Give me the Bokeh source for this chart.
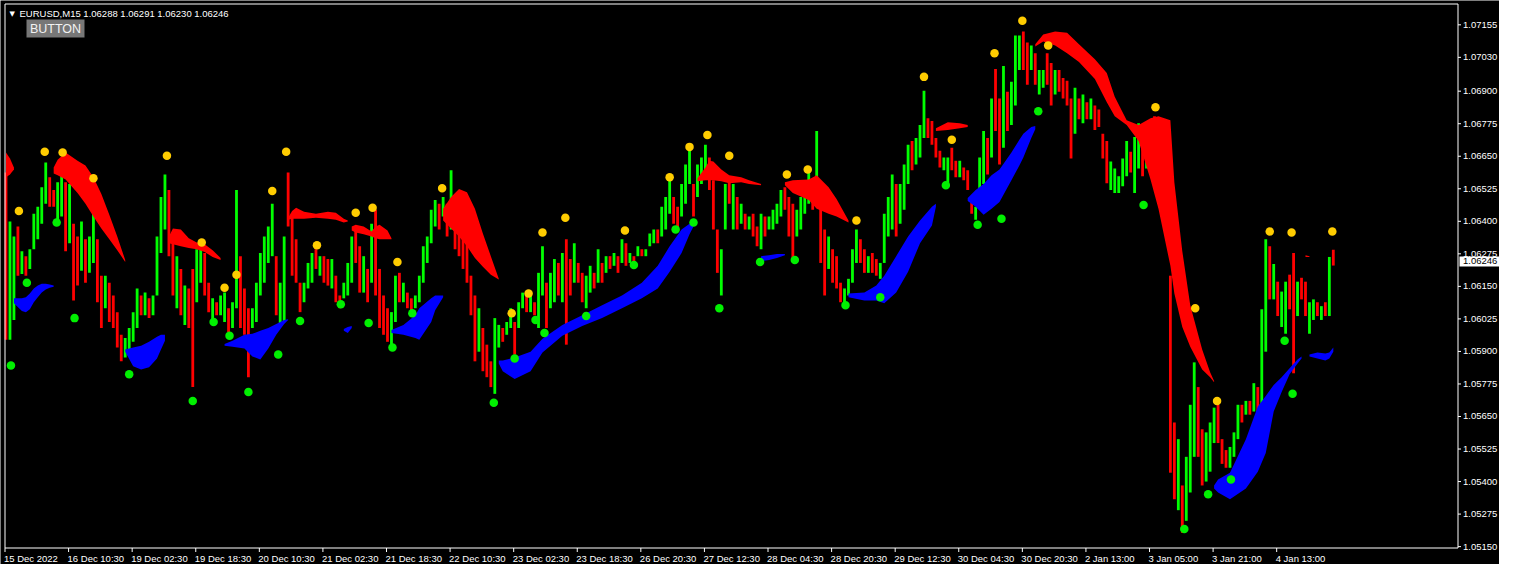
import numpy as np
from bokeh.plotting import figure
from bokeh.models import Range1d, ColumnDataSource
from bokeh.core.properties import value
from bokeh.embed import file_html
from bokeh.resources import INLINE

# ---------------- data ----------------
symbol = "EURUSD,M15"
last_ohlc = [1.06288, 1.06291, 1.06230, 1.06246]
price_base = 1.05          # all stored values below are points (0.00001) above this level

# hourly-aggregated bars (high / low / close, in points)
bar_high = [
    1588, 1399, 1342, 1380, 1285, 1266, 1293, 1429, 1456, 1531,
    1626, 1569, 1520, 1550, 1580, 1550, 1543, 1391, 1342, 1399,
    1331, 1342, 1429, 1331, 1191, 1191, 1164, 1115, 1051, 964,
    952, 990, 1051, 1142, 1115, 1126, 1104, 1115, 1342, 1493,
    1580, 1520, 1342, 1266, 1217, 1153, 1142, 1217, 1293, 1304,
    1278, 1164, 1104, 1089, 1115, 1126, 1066, 1089, 1520, 1266,
    1142, 1066, 1066, 1164, 1278, 1342, 1380, 1467, 1266, 1164,
    1342, 1588, 1429, 1331, 1164, 1164, 1240, 1278, 1293, 1266,
    1266, 1255, 1255, 1191, 1115, 1164, 1240, 1342, 1369, 1304,
    1266, 1217, 1391, 1444, 1217, 1115, 1066, 1051, 1191, 1202,
    1164, 1126, 1104, 1115, 1191, 1304, 1342, 1444, 1482, 1467,
    1493, 1467, 1596, 1444, 1391, 1369, 1316, 1191, 1115, 1066,
    990, 926, 862, 1028, 1002, 990, 1013, 1066, 1013, 1089,
    1126, 1115, 1115, 1089, 1202, 1304, 1164, 1202, 1255, 1240,
    1278, 1331, 1255, 1316, 1240, 1202, 1191, 1229, 1202, 1293,
    1240, 1266, 1266, 1278, 1266, 1331, 1316, 1278, 1266, 1304,
    1293, 1293, 1353, 1369, 1369, 1456, 1493, 1569, 1493, 1456,
    1543, 1618, 1671, 1543, 1618, 1645, 1694, 1645, 1558, 1369,
    1293, 1543, 1558, 1543, 1493, 1467, 1429, 1418, 1429, 1380,
    1429, 1418, 1418, 1444, 1467, 1520, 1531, 1493, 1467, 1444,
    1493, 1543, 1596, 1543, 1747, 1493, 1369, 1342, 1293, 1266,
    1164, 1142, 1179, 1293, 1369, 1331, 1293, 1266, 1278, 1255,
    1240, 1429, 1493, 1580, 1543, 1543, 1618, 1694, 1709, 1720,
    1770, 1902, 1796, 1785, 1720, 1671, 1645, 1645, 1683, 1633,
    1633, 1607, 1596, 1493, 1456, 1645, 1747, 1720, 1872, 1985,
    1872, 1997, 1898, 1936, 2114, 2114, 2129, 2087, 2076, 2046,
    1981, 1981, 2046, 2008, 1981, 1981, 1951, 1940, 1872, 1913,
    1872, 1887, 1857, 1872, 1845, 1830, 1736, 1709, 1630, 1603,
    1573, 1641, 1709, 1667, 1724, 1777, 1762, 1777, 1792, 1804,
    1792, 1777, 1739, 1191, 627, 563, 385, 495, 695, 858,
    763, 601, 589, 627, 684, 695, 563, 521, 533, 589,
    695, 695, 710, 710, 778, 763, 1062, 1331, 1304, 1236,
    1168, 1130, 1168, 1195, 1278, 1168, 1183, 1168, 1089, 1100,
    1089, 1074, 1089, 1263, 1291,
]
bar_low = [
    945, 945, 1021, 1191, 1198, 1191, 1217, 1293, 1331, 1391,
    1467, 1456, 1456, 1399, 1418, 1285, 1316, 1096, 1153, 1210,
    1164, 1202, 1240, 1089, 990, 1066, 1013, 990, 915, 862,
    877, 888, 937, 990, 1039, 1039, 1028, 1039, 1115, 1278,
    1369, 1266, 1115, 1066, 1039, 1002, 990, 763, 1089, 1164,
    1115, 1051, 1013, 1039, 1039, 1013, 975, 990, 1066, 990,
    964, 801, 990, 1013, 1115, 1164, 1240, 1266, 1039, 1002,
    1013, 1380, 1191, 1164, 1051, 1089, 1142, 1164, 1217, 1191,
    1164, 1153, 1142, 1089, 1066, 1104, 1115, 1164, 1240, 1126,
    1126, 1089, 1164, 1115, 990, 964, 937, 915, 1013, 1089,
    1089, 1066, 1051, 1066, 1089, 1164, 1240, 1316, 1380, 1369,
    1418, 1342, 1369, 1293, 1266, 1217, 1164, 1039, 862, 899,
    824, 801, 763, 737, 915, 937, 964, 990, 888, 990,
    1066, 1051, 1051, 1039, 990, 1115, 990, 1066, 1089, 1115,
    1089, 926, 1115, 1164, 1164, 1089, 1066, 1126, 1142, 1164,
    1164, 1202, 1217, 1229, 1202, 1240, 1229, 1240, 1229, 1266,
    1266, 1266, 1304, 1316, 1316, 1342, 1369, 1429, 1391, 1369,
    1418, 1467, 1543, 1418, 1493, 1543, 1596, 1520, 1369, 1202,
    1115, 1369, 1467, 1369, 1369, 1391, 1369, 1369, 1342, 1304,
    1293, 1342, 1369, 1369, 1391, 1418, 1444, 1342, 1255, 1342,
    1369, 1429, 1467, 1444, 1493, 1240, 1115, 1217, 1164, 1142,
    1089, 1077, 1115, 1164, 1240, 1240, 1202, 1202, 1202, 1191,
    1179, 1240, 1342, 1369, 1342, 1391, 1444, 1543, 1596, 1618,
    1645, 1720, 1720, 1694, 1645, 1607, 1596, 1543, 1596, 1569,
    1569, 1558, 1520, 1429, 1406, 1467, 1543, 1580, 1645, 1747,
    1618, 1683, 1747, 1770, 1845, 1981, 1981, 1925, 1981, 1925,
    1887, 1913, 1925, 1845, 1887, 1898, 1872, 1845, 1641, 1736,
    1792, 1777, 1792, 1792, 1751, 1762, 1641, 1546, 1520, 1509,
    1509, 1535, 1573, 1588, 1509, 1603, 1573, 1603, 1709, 1736,
    1709, 1683, 1569, 434, 332, 290, 203, 249, 358, 495,
    495, 385, 400, 438, 548, 548, 468, 453, 453, 495,
    563, 627, 657, 657, 669, 669, 695, 899, 1100, 1100,
    1036, 994, 968, 1062, 816, 1036, 1100, 1036, 968, 1021,
    1036, 1021, 1036, 1036, 1230,
]
bar_close = [
    1000, 1350, 1300, 1215, 1270, 1205, 1280, 1410, 1440, 1510,
    1600, 1475, 1465, 1530, 1560, 1310, 1500, 1130, 1180, 1370,
    1190, 1320, 1400, 1120, 1020, 1170, 1040, 1010, 940, 880,
    940, 975, 1035, 1120, 1050, 1110, 1040, 1100, 1310, 1460,
    1540, 1300, 1150, 1240, 1070, 1130, 1010, 900, 1260, 1280,
    1140, 1065, 1090, 1045, 1100, 1110, 985, 1075, 1300, 1030,
    990, 880, 1055, 1140, 1250, 1310, 1360, 1440, 1070, 1140,
    1300, 1400, 1220, 1185, 1065, 1150, 1225, 1260, 1230, 1255,
    1180, 1170, 1240, 1100, 1072, 1155, 1225, 1320, 1255, 1145,
    1245, 1100, 1370, 1150, 1010, 980, 950, 1035, 1170, 1100,
    1150, 1075, 1058, 1105, 1175, 1285, 1325, 1425, 1465, 1385,
    1480, 1360, 1560, 1310, 1280, 1235, 1180, 1055, 890, 1040,
    845, 815, 775, 1000, 990, 945, 1005, 1055, 900, 1075,
    1118, 1060, 1105, 1045, 1180, 1280, 1010, 1185, 1235, 1130,
    1255, 1000, 1130, 1295, 1175, 1100, 1175, 1215, 1150, 1275,
    1175, 1255, 1222, 1270, 1210, 1320, 1240, 1272, 1235, 1298,
    1270, 1288, 1345, 1362, 1322, 1440, 1480, 1550, 1400, 1380,
    1530, 1600, 1655, 1430, 1600, 1630, 1680, 1535, 1390, 1215,
    1270, 1520, 1475, 1520, 1380, 1455, 1375, 1410, 1350, 1312,
    1415, 1350, 1410, 1435, 1455, 1505, 1455, 1360, 1280, 1430,
    1480, 1530, 1580, 1455, 1700, 1270, 1140, 1325, 1180, 1155,
    1095, 1135, 1170, 1280, 1350, 1250, 1212, 1258, 1210, 1198,
    1232, 1410, 1480, 1560, 1360, 1530, 1600, 1680, 1605, 1710,
    1755, 1870, 1730, 1700, 1650, 1612, 1638, 1630, 1605, 1575,
    1625, 1562, 1528, 1435, 1450, 1630, 1725, 1590, 1850, 1770,
    1640, 1970, 1760, 1920, 2090, 2100, 1995, 1940, 2065, 1935,
    1970, 1975, 1935, 1860, 1970, 1905, 1880, 1855, 1660, 1895,
    1800, 1875, 1798, 1865, 1760, 1768, 1650, 1560, 1620, 1595,
    1565, 1630, 1695, 1595, 1705, 1765, 1585, 1765, 1785, 1742,
    1715, 1690, 1580, 450, 345, 545, 215, 480, 670, 830,
    510, 400, 575, 610, 670, 560, 475, 458, 525, 580,
    685, 632, 705, 662, 770, 675, 1040, 1300, 1115, 1225,
    1045, 1120, 1150, 1072, 850, 1155, 1108, 1045, 1080, 1092,
    1042, 1068, 1042, 1245, 1246,
]

price_ticks = [1.05150, 1.05275, 1.05400, 1.05525, 1.05650, 1.05775, 1.05900,
               1.06025, 1.06150, 1.06275, 1.06400, 1.06525, 1.06650, 1.06775,
               1.06900, 1.07030, 1.07155]
time_labels = ["15 Dec 2022", "16 Dec 10:30", "19 Dec 02:30", "19 Dec 18:30",
               "20 Dec 10:30", "21 Dec 02:30", "21 Dec 18:30", "22 Dec 10:30",
               "23 Dec 02:30", "23 Dec 18:30", "26 Dec 20:30", "27 Dec 12:30",
               "28 Dec 04:30", "28 Dec 20:30", "29 Dec 12:30", "30 Dec 04:30",
               "30 Dec 20:30", "2 Jan 13:00", "3 Jan 05:00", "3 Jan 21:00",
               "4 Jan 13:00"]
first_label_bar = -0.25
bars_per_label = 16

# --- red (bearish) cloud segments: bar index, upper edge, lower edge (points)
red1_bar = [0, 1, 2]
red1_top = [1664, 1641, 1607]
red1_bot = [1569, 1580, 1599]
red2_bar = [12, 13, 15, 18, 20, 22, 24, 26, 28, 30]
red2_top = [1607, 1637, 1664, 1633, 1614, 1569, 1505, 1425, 1342, 1251]
red2_bot = [1584, 1577, 1561, 1509, 1467, 1418, 1372, 1331, 1289, 1244]
red3_bar = [41, 42, 44, 46, 48, 50, 52, 54]
red3_top = [1342, 1372, 1369, 1335, 1319, 1312, 1289, 1259]
red3_bot = [1316, 1312, 1304, 1297, 1293, 1282, 1263, 1251]
red4_bar = [71, 72, 73, 75, 78, 81, 83, 85, 86]
red4_top = [1414, 1440, 1452, 1437, 1429, 1437, 1433, 1410, 1403]
red4_bot = [1406, 1410, 1410, 1410, 1414, 1410, 1406, 1395, 1399]
red5_bar = [87, 88, 90, 92, 93, 94, 96, 97]
red5_top = [1380, 1387, 1380, 1361, 1380, 1387, 1365, 1335]
red5_bot = [1365, 1357, 1350, 1342, 1335, 1331, 1331, 1331]
red6_bar = [110, 112, 114, 116, 118, 120, 122, 124]
red6_top = [1448, 1493, 1524, 1512, 1448, 1353, 1266, 1179]
red6_bot = [1403, 1372, 1342, 1304, 1259, 1225, 1195, 1176]
red7_bar = [174, 176, 177, 178, 180, 182, 185, 187, 190]
red7_top = [1565, 1607, 1633, 1630, 1599, 1577, 1569, 1558, 1543]
red7_bot = [1554, 1558, 1558, 1558, 1554, 1546, 1550, 1543, 1539]
red8_bar = [196, 198, 202, 204, 207, 209, 212]
red8_top = [1550, 1558, 1561, 1577, 1531, 1486, 1403]
red8_bot = [1539, 1509, 1482, 1448, 1429, 1418, 1395]
red9_bar = [234, 237, 240, 242]
red9_top = [1758, 1781, 1777, 1770]
red9_bot = [1747, 1751, 1758, 1762]
red10_bar = [259, 261, 264, 267, 270, 274, 277, 279, 282, 285, 288, 290, 293, 294,
             296, 298, 301, 303, 304]
red10_top = [2080, 2118, 2129, 2125, 2080, 2023, 1970, 1879, 1788, 1770, 1796, 1804,
             1788, 1550, 1285, 1077, 907, 820, 786]
red10_bot = [2072, 2091, 2076, 2046, 2012, 1947, 1857, 1804, 1770, 1709, 1561, 1448,
             1229, 1123, 994, 918, 831, 801, 782]
red11_bar = [327, 328]
red11_top = [1270, 1266]
red11_bot = [1263, 1263]

# --- blue (bullish) cloud segments
blue1_bar = [2, 4, 5, 6, 7, 8, 9, 10, 11, 12]
blue1_top = [1104, 1104, 1108, 1123, 1142, 1153, 1160, 1160, 1157, 1153]
blue1_bot = [1085, 1055, 1051, 1062, 1089, 1108, 1126, 1138, 1145, 1149]
blue2_bar = [30, 32, 34, 36, 38, 39, 40]
blue2_top = [907, 915, 922, 937, 956, 964, 964]
blue2_bot = [899, 843, 831, 839, 873, 907, 941]
blue3_bar = [55, 57, 60, 62, 64, 66, 68, 70, 71]
blue3_top = [929, 941, 964, 968, 979, 990, 1005, 1021, 1024]
blue3_bot = [922, 918, 911, 881, 869, 911, 964, 1005, 1021]
blue4_bar = [85, 86, 87]
blue4_top = [986, 994, 998]
blue4_bot = [979, 971, 990]
blue5_bar = [97, 100, 103, 104, 107, 108, 110]
blue5_top = [982, 1002, 1039, 1066, 1104, 1115, 1115]
blue5_bot = [971, 964, 952, 945, 1013, 1058, 1108]
blue6_bar = [124, 125, 128, 132, 135, 140, 145, 150, 155, 160, 164, 167, 170, 172, 173]
blue6_top = [865, 865, 877, 899, 949, 1002, 1039, 1077, 1115, 1164, 1229, 1304, 1369, 1391, 1395]
blue6_bot = [854, 824, 794, 824, 896, 960, 998, 1028, 1066, 1104, 1142, 1206, 1278, 1350, 1380]
blue7_bar = [190, 192, 194, 196]
blue7_top = [1266, 1270, 1274, 1274]
blue7_bot = [1247, 1251, 1259, 1270]
blue8_bar = [212, 216, 219, 221, 224, 227, 230, 233, 234]
blue8_top = [1123, 1126, 1153, 1191, 1266, 1342, 1403, 1456, 1467]
blue8_bot = [1108, 1096, 1096, 1085, 1126, 1206, 1316, 1384, 1456]
blue9_bar = [242, 244, 246, 248, 250, 253, 255, 256, 258, 259]
blue9_top = [1490, 1520, 1543, 1577, 1599, 1664, 1713, 1736, 1762, 1766]
blue9_bot = [1478, 1456, 1425, 1448, 1474, 1558, 1614, 1645, 1720, 1754]
blue10_bar = [304, 305, 308, 312, 315, 317, 319, 321, 323, 325, 326]
blue10_top = [385, 408, 434, 563, 688, 729, 771, 801, 835, 869, 881]
blue10_bot = [373, 358, 332, 373, 438, 510, 669, 744, 812, 854, 873]
blue11_bar = [328, 330, 332, 333, 334]
blue11_top = [888, 896, 892, 896, 915]
blue11_bot = [881, 873, 865, 873, 899]

# --- swing dots (bar index, level in points)
top_dot_bar = [3.25, 9.75, 14.25, 22, 40.5, 49.25, 55, 58, 67, 70.5, 78.25, 88, 92.25,
               98.5, 109.75, 127.25, 131.5, 135, 140.75, 155.75, 167, 172, 176.5, 182,
               196.5, 201.75, 214, 231, 238, 248.75, 255.75, 262.25, 289.25, 299.25,
               304.75, 318, 323.5, 333.75]
top_dot_val = [1440, 1667, 1664, 1565, 1652, 1319, 1145, 1195, 1516, 1667, 1308, 1433,
               1452, 1244, 1527, 1047, 1123, 1357, 1414, 1365, 1569, 1686, 1732, 1652,
               1580, 1599, 1403, 1955, 1713, 2046, 2171, 2076, 1838, 1066, 710, 1361,
               1357, 1361]
bot_dot_bar = [1.25, 5.25, 12.75, 17.25, 31, 47, 52.25, 56.25, 61, 68.5, 74, 84.25, 91.25,
               97.25, 102.25, 122.75, 128, 133.25, 135.5, 146, 158, 168.5, 173, 179.5,
               189.75, 198.5, 211.25, 220, 236.5, 244.5, 250.5, 259.75, 286.25, 296.5,
               302.5, 308.25, 321.75, 323.75]
bot_dot_val = [846, 1164, 1395, 1028, 812, 710, 1013, 960, 744, 888, 1017, 1081, 1009,
               915, 1047, 703, 873, 1021, 971, 1036, 1232, 1369, 1395, 1066, 1244, 1251,
               1077, 1108, 1539, 1387, 1410, 1823, 1463, 218, 351, 408, 941, 737]


def to_price(points):
    return price_base + np.asarray(points, dtype=float) * 1e-5


# ---------------- layout (canvas pixels) ----------------
W, H = 1499, 564
IL, IT, IR, IB = 4.5, 3.5, 1457.5, 547.5     # inner chart box
x0, x1 = -0.25, 365.375                      # bar span of the inner box
y0, y1 = 1.051447, 1.07235                   # price span of the inner box
ppx = (IR - IL) / (x1 - x0)
ppy = (IB - IT) / (y1 - y0)
cx0, cx1 = x0 - IL / ppx, x1 + (W - IR) / ppx
cy0, cy1 = y0 - (H - IB) / ppy, y1 + IT / ppy


def X(px):   # canvas pixel column -> data x
    return cx0 + px / ppx


def Y(py):   # canvas pixel row -> data y
    return cy1 - py / ppy


FONT = value("Liberation Sans")
FS = value("9.5px")

p = figure(width=W, height=H, x_range=Range1d(cx0, cx1), y_range=Range1d(cy0, cy1),
           x_axis_location=None, y_axis_location=None,
           output_backend="svg", toolbar_location=None,
           background_fill_color="black", border_fill_color="black",
           min_border_left=0, min_border_right=0, min_border_top=0, min_border_bottom=0)
p.grid.visible = False
p.outline_line_color = None

# bars
idx = np.arange(len(bar_high))
hi = to_price(bar_high)
lo = to_price(bar_low)
cl = to_price(bar_close)
colors = np.where(cl > (hi + lo) / 2, "#00FF00", "#FF0000")
src = ColumnDataSource(dict(x=idx, lo=lo, hi=hi, c=colors))
p.segment(x0="x", y0="lo", x1="x", y1="hi", line_color="c", line_width=2.8, source=src)

# clouds
reds = [(red1_bar, red1_top, red1_bot), (red2_bar, red2_top, red2_bot),
        (red3_bar, red3_top, red3_bot), (red4_bar, red4_top, red4_bot),
        (red5_bar, red5_top, red5_bot), (red6_bar, red6_top, red6_bot),
        (red7_bar, red7_top, red7_bot), (red8_bar, red8_top, red8_bot),
        (red9_bar, red9_top, red9_bot), (red10_bar, red10_top, red10_bot),
        (red11_bar, red11_top, red11_bot)]
blues = [(blue1_bar, blue1_top, blue1_bot), (blue2_bar, blue2_top, blue2_bot),
         (blue3_bar, blue3_top, blue3_bot), (blue4_bar, blue4_top, blue4_bot),
         (blue5_bar, blue5_top, blue5_bot), (blue6_bar, blue6_top, blue6_bot),
         (blue7_bar, blue7_top, blue7_bot), (blue8_bar, blue8_top, blue8_bot),
         (blue9_bar, blue9_top, blue9_bot), (blue10_bar, blue10_top, blue10_bot),
         (blue11_bar, blue11_top, blue11_bot)]
for col, group in (("#FF0000", reds), ("#0000FF", blues)):
    for bx, tp, bt in group:
        p.varea(x=bx, y1=to_price(tp), y2=to_price(bt), fill_color=col)

# dots
p.scatter(top_dot_bar, to_price(top_dot_val), size=8.5, fill_color="#FFCC00", line_color=None)
p.scatter(bot_dot_bar, to_price(bot_dot_val), size=8.5, fill_color="#00F000", line_color=None)

# chart box
p.quad(left=[x0], right=[x1], bottom=[y0], top=[y1], fill_color=None,
       line_color="white", line_width=1)

# right price scale
n = len(price_ticks)
p.segment(x0=[x1] * n, y0=price_ticks, x1=[x1 + 3 / ppx] * n, y1=price_ticks,
          line_color="white", line_width=1)
p.text(x=[x1 + 5 / ppx] * n, y=price_ticks, text=["%.5f" % v for v in price_ticks],
       text_color="white", text_font=FONT, text_font_size=FS,
       text_baseline="middle", text_align="left")

# current price marker
p.quad(left=[x1 + 1.5 / ppx], right=[x1 + 41.5 / ppx],
       bottom=[last_ohlc[3] - 5 / ppy], top=[last_ohlc[3] + 5 / ppy],
       fill_color="white", line_color=None)
p.text(x=[x1 + 5 / ppx], y=[last_ohlc[3]], text=["%.5f" % last_ohlc[3]],
       text_color="black", text_font=FONT, text_font_size=FS,
       text_baseline="middle", text_align="left")

# bottom time scale (labels start at their tick marks)
tick_pos = [first_label_bar + bars_per_label * k for k in range(len(time_labels))]
m = len(tick_pos)
p.segment(x0=tick_pos, y0=[y0] * m, x1=tick_pos, y1=[y0 - 4 / ppy] * m,
          line_color="white", line_width=1)
p.text(x=[t - 1 / ppx for t in tick_pos], y=[y0 - 5 / ppy] * m, text=time_labels,
       text_color="white", text_font=FONT, text_font_size=FS,
       text_baseline="top", text_align="left")

# header line
title_text = symbol + "  " + " ".join("%.5f" % v for v in last_ohlc)
p.text(x=[X(9)], y=[Y(9)], text=["\u25BC"], text_color="white",
       text_font=value("DejaVu Sans"), text_font_size=value("7px"), text_baseline="top")
p.text(x=[X(19)], y=[Y(7.5)], text=[title_text], text_color="white",
       text_font=FONT, text_font_size=FS, text_baseline="top")

# button
p.quad(left=[X(26)], right=[X(84)], top=[Y(19)], bottom=[Y(37)],
       fill_color="#777777", line_color=None)
p.text(x=[X(55)], y=[Y(28)], text=["BUTTON"], text_color="#F2F2F2",
       text_font=FONT, text_font_size=value("12.5px"), text_align="center",
       text_baseline="middle")

open("out.html", "w").write(file_html(p, INLINE))
